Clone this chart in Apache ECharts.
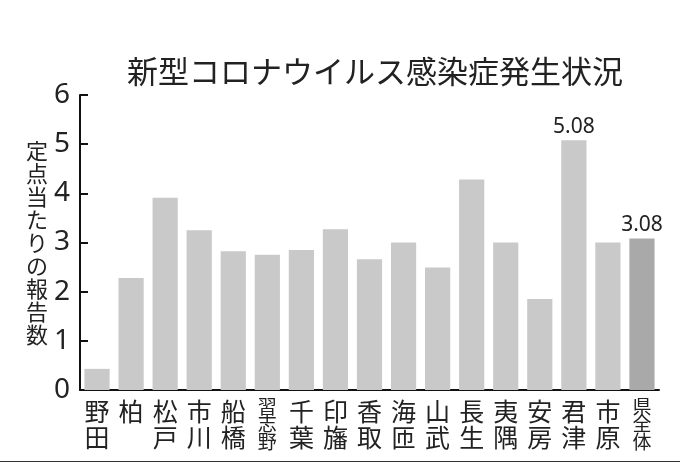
<!DOCTYPE html>
<html>
<head>
<meta charset="utf-8">
<script src="https://cdn.jsdelivr.net/npm/echarts@6/dist/echarts.min.js"></script>
<style>
  html, body { margin: 0; padding: 0; background: #fff; }
  #chart { width: 680px; height: 463px; }
</style>
</head>
<body>
<div id="chart"></div>
<script>
const titleText = '新型コロナウイルス感染症発生状況';
const yAxisName = '定点当たりの報告数';
const categories = ['野田', '柏', '松戸', '市川', '船橋', '習志野', '千葉', '印旛', '香取', '海匝', '山武', '長生', '夷隅', '安房', '君津', '市原', '県全体'];
const values = [0.43, 2.28, 3.91, 3.25, 2.82, 2.75, 2.85, 3.27, 2.66, 3.0, 2.49, 4.28, 3.0, 1.85, 5.08, 3.0, 3.08];
const labeledCategories = ['君津', '県全体'];
const highlightCategory = '県全体';
const yTicks = [0, 1, 2, 3, 4, 5, 6];

const FONT = '"Noto Sans CJK JP", "Noto Sans", sans-serif';

const chart = echarts.init(document.getElementById('chart'), null, { renderer: 'canvas' });

const seriesData = categories.map((c, i) => ({
  value: values[i],
  itemStyle: { color: c === highlightCategory ? '#a9a9a9' : '#c9c9c9' },
  label: {
    show: labeledCategories.includes(c),
    position: 'top',
    distance: 3,
    formatter: (p) => p.value.toFixed(2),
    fontFamily: '"Noto Sans", sans-serif',
    fontSize: 21,
    color: '#222'
  }
}));

chart.setOption({
  animation: false,
  backgroundColor: '#fff',
  title: {
    text: titleText,
    left: 370,
    top: 51,
    textAlign: 'center',
    textStyle: { fontFamily: FONT, fontSize: 31, fontWeight: 'normal', color: '#222' }
  },
  grid: { left: 80, right: 21, top: 95, bottom: 73 },
  xAxis: {
    type: 'category',
    data: categories,
    axisLine: { lineStyle: { color: '#111', width: 2 } },
    axisTick: { show: false },
    axisLabel: {
      interval: 0,
      margin: 8,
      color: '#222',
      fontFamily: FONT,
      formatter: (v) => {
        const chars = v.split('');
        if (chars.length >= 3) return chars.map(ch => '{s|' + ch + '}').join('\n');
        return chars.map(ch => '{n|' + ch + '}').join('\n');
      },
      rich: {
        n: { fontFamily: FONT, fontSize: 25, lineHeight: 26, color: '#222' },
        s: { fontFamily: FONT, fontSize: 19, lineHeight: 17.5, color: '#222' }
      }
    }
  },
  yAxis: {
    type: 'value',
    min: yTicks[0],
    max: yTicks[yTicks.length - 1],
    interval: 1,
    name: yAxisName.split('').join('\n'),
    nameLocation: 'middle',
    nameRotate: 0,
    nameGap: 31,
    nameTextStyle: { fontFamily: FONT, fontSize: 22, lineHeight: 23, color: '#222' },
    axisLine: { show: true, lineStyle: { color: '#111', width: 2 } },
    axisTick: { show: true, inside: true, length: 8, lineStyle: { color: '#111', width: 2 } },
    splitLine: { show: false },
    axisLabel: { margin: 10, fontFamily: '"Noto Sans", sans-serif', fontSize: 28, color: '#222' }
  },
  series: [{
    type: 'bar',
    data: seriesData,
    barCategoryGap: '26%'
  }],
  graphic: [{
    type: 'line',
    shape: { x1: 0, y1: 461.5, x2: 680, y2: 461.5 },
    style: { stroke: '#333', lineWidth: 1 }
  }]
});
</script>
</body>
</html>
